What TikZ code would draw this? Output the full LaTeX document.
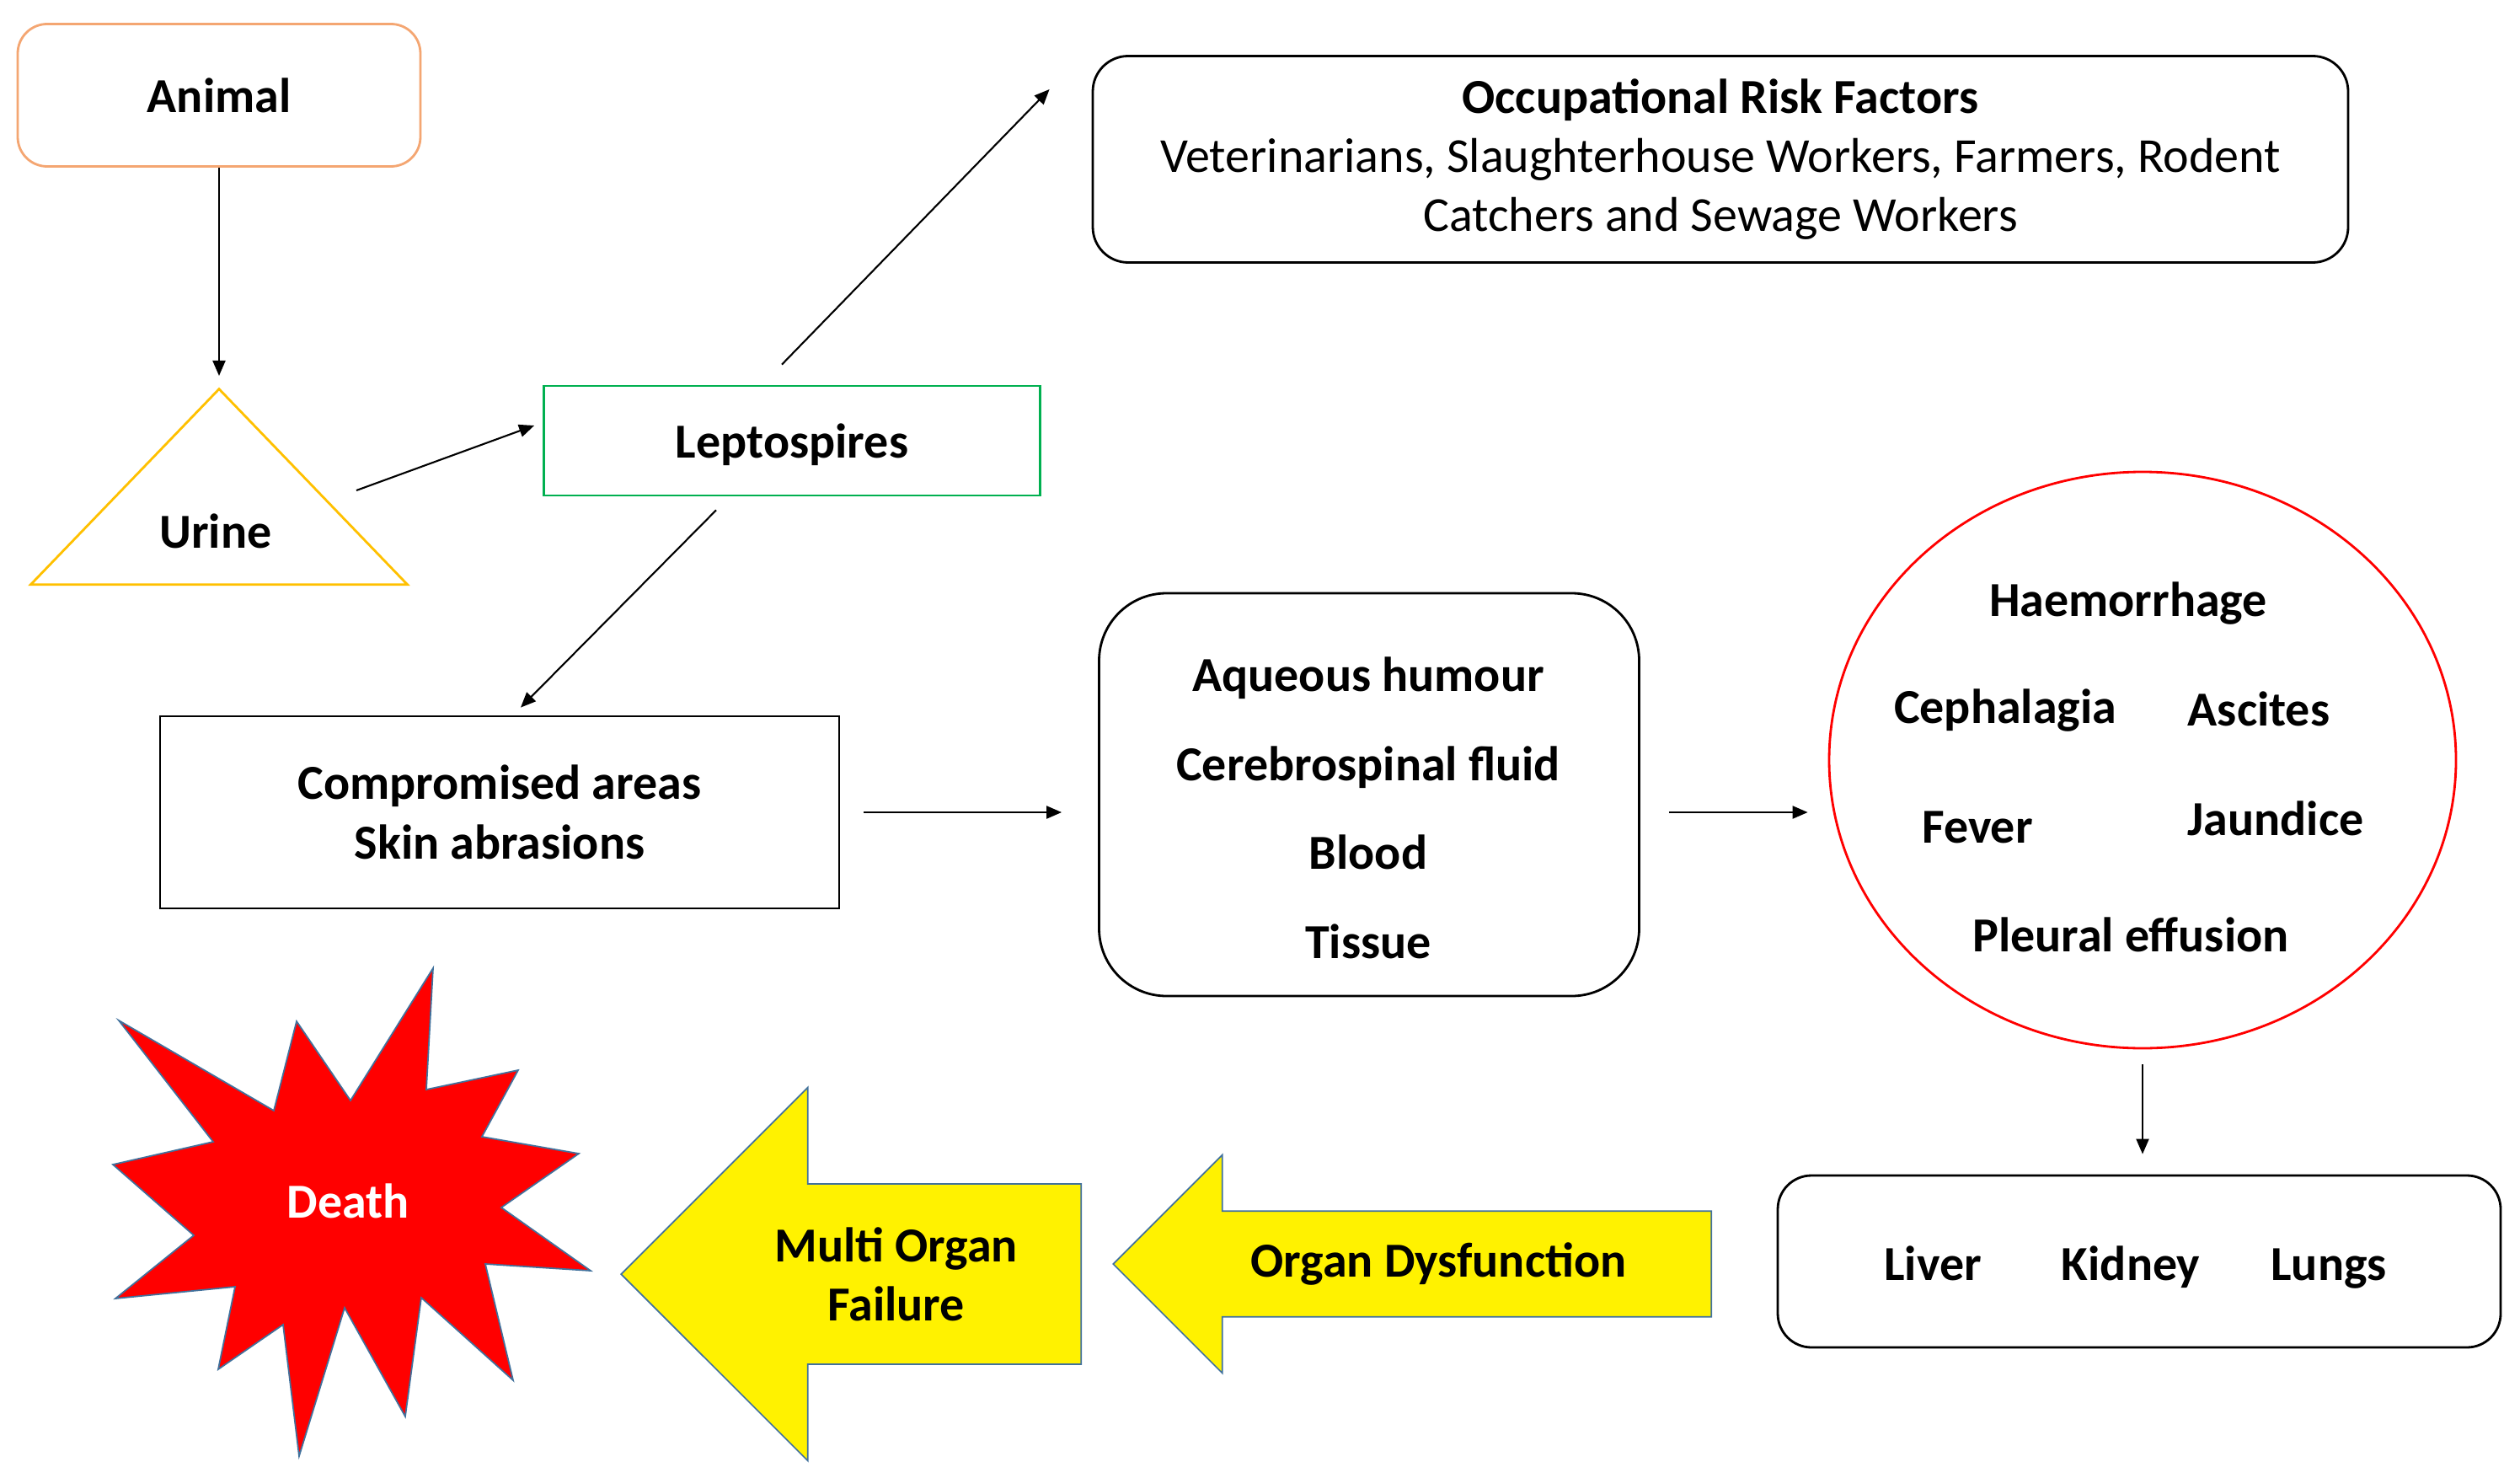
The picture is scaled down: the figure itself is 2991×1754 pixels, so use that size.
\documentclass[tikz,border=0pt]{standalone}
\usepackage{fontspec}
\setmainfont{Carlito}
\usepackage{xcolor}
\usetikzlibrary{positioning,arrows.meta,shapes.geometric,shapes.arrows,calc}
\definecolor{animalorange}{HTML}{F4A672}
\definecolor{urineyellow}{HTML}{FFC000}
\definecolor{leptogreen}{HTML}{00B050}
\definecolor{shapeedge}{HTML}{41719C}

\begin{document}
\begin{tikzpicture}[x=0.1mm,y=-0.1mm,
    every node/.style={font=\fontsize{16.5}{20}\selectfont\bfseries},
    lbl/.style={anchor=base},
    box/.style={draw,line width=0.8pt,inner sep=0pt},
    arr/.style={-{Triangle[length=1.8mm,width=1.5mm]},line width=0.6pt},
    bigarrow/.style={draw=shapeedge,fill=yellow,line width=0.5pt,single arrow,shape border rotate=180,inner xsep=0pt,anchor=tip,align=center}]
    \useasboundingbox (0,0) rectangle (2991,1754);
    % Source and route of infection
    \node[box,draw=animalorange,rounded corners=0.35cm,minimum width=4.78cm,minimum height=1.69cm] (animal) at (260,113) {Animal};
    \node[draw=urineyellow,line width=0.8pt,isosceles triangle,isosceles triangle stretches,shape border rotate=90,minimum width=4.47cm,minimum height=2.32cm,inner sep=0pt,anchor=apex] (urine) at (260,458) {};
    \node[lbl] (urinetxt) at (256,650) {Urine};
    \node[box,draw=leptogreen,text depth=0pt,minimum width=5.89cm,minimum height=1.3cm] (lepto) at (940,523) {Leptospires};
    \node[box,rounded corners=0.42cm,minimum width=14.90cm,minimum height=2.45cm,align=center] (occup) at (2042,189) {Occupational Risk Factors\\ \mdseries Veterinarians, Slaughterhouse Workers, Farmers, Rodent\\ \mdseries Catchers and Sewage Workers};
    \node[box,minimum width=8.06cm,minimum height=2.28cm,align=center] (comp) at (593,964) {Compromised areas\\Skin abrasions};
    % Body fluids
    \node[box,rounded corners=0.8cm,minimum width=6.41cm,minimum height=4.78cm] (aq) at (1625,943) {};
    \node[align=center,font=\fontsize{16.5}{30}\selectfont\bfseries] (aqtxt) at (1624,959) {Aqueous humour\\Cerebrospinal fluid\\Blood\\Tissue};
    % Symptoms
    \node[draw=red,line width=0.8pt,ellipse,minimum width=7.44cm,minimum height=6.84cm,inner sep=0pt] (sym) at (2543,902) {};
    \node[lbl] (haem) at (2526,731) {Haemorrhage};
    \node[lbl] (ceph) at (2380,858) {Cephalagia};
    \node[lbl] (asc) at (2681,861) {Ascites};
    \node[lbl] (fever) at (2347,1000) {Fever};
    \node[lbl] (jaund) at (2701,991) {Jaundice};
    \node[lbl] (pleural) at (2529,1129) {Pleural effusion};
    % Organs
    \node[box,rounded corners=0.4cm,minimum width=8.58cm,minimum height=2.04cm] (organs) at (2539,1497) {};
    \node[lbl] (liver) at (2294,1519) {Liver};
    \node[lbl] (kidney) at (2529,1519) {Kidney};
    \node[lbl] (lungs) at (2764,1519) {Lungs};
    % Outcome
    \node[bigarrow,inner ysep=3.4mm,minimum width=2.59cm,minimum height=7.10cm,single arrow head extend=0.64cm] (dysf) at (1320,1500) {Organ Dysfunction};
    \node[bigarrow,inner ysep=4.6mm,minimum width=4.43cm,minimum height=5.46cm,single arrow head extend=1.1cm] (mof) at (736,1512) {Multi Organ\\Failure};
    \filldraw[fill=red,draw=shapeedge,line width=0.5pt] (514,1149) -- (506,1293) -- (615,1270) -- (572,1349) -- (687,1369) -- (595,1433) -- (701,1508) -- (576,1500) -- (609,1638) -- (500,1540) -- (481,1681) -- (409,1552) -- (355,1728) -- (336,1572) -- (259,1625) -- (279,1527) -- (137,1541) -- (230,1466) -- (134,1382) -- (253,1355) -- (141,1211) -- (325,1318) -- (352,1212) -- (416,1306) -- cycle;
    \node[lbl,text=white] (death) at (413,1445) {Death};
    % Connectors
    \draw[arr,shorten >=1.2mm] (animal.south) -- (urine.apex);
    \draw[arr] ([shift={(167,-68)}]urinetxt.base) -- ([shift={(-10,-18)}]lepto.west);
    \draw[arr] ([shift={(-12,-24)}]lepto.north) -- ([shift={(-50,-83)}]occup.west);
    \draw[arr] ([shift={(-90,16)}]lepto.south) -- ([shift={(25,-9)}]comp.north);
    \draw[arr,shorten <=2.8mm,shorten >=4.3mm] (comp.east) -- (comp.east -| aq.west);
    \draw[arr,shorten <=3.4mm,shorten >=2.4mm] (aq.east |- comp.east) -- (sym.west |- comp.east);
    \draw[arr,shorten <=1.8mm,shorten >=2.4mm] (sym.south) -- (sym.south |- organs.north);
\end{tikzpicture}
\end{document}
